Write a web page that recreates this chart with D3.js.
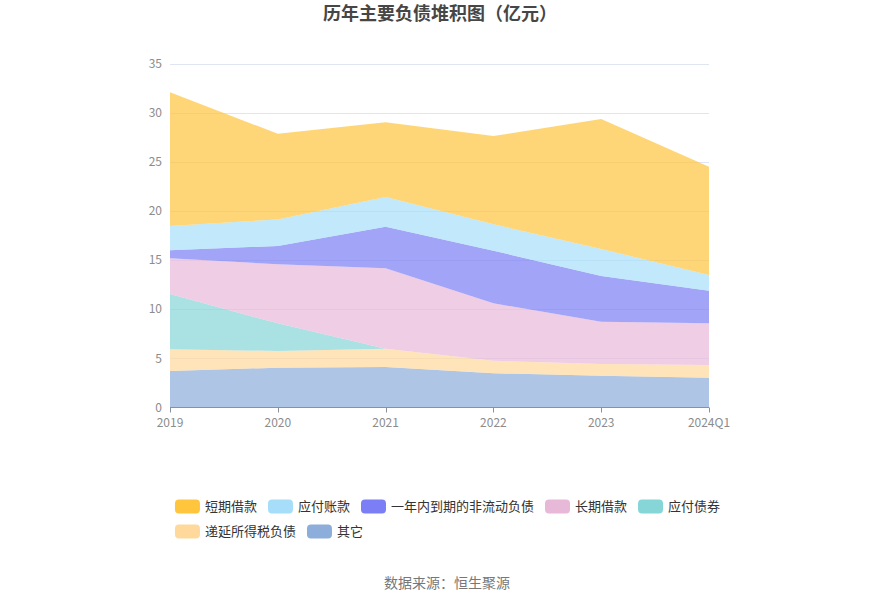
<!DOCTYPE html>
<html><head><meta charset="utf-8">
<script src="https://cdn.jsdelivr.net/npm/d3@7/dist/d3.min.js"></script>
<style>
body{margin:0;background:#fff;}
svg{display:block;font-family:"Noto Sans CJK SC","Noto Sans",sans-serif;}
</style></head>
<body>
<svg id="chart" width="893" height="603"></svg>
<script>
const years = ["2019","2020","2021","2022","2023","2024Q1"];
const seriesNames = ["其它","递延所得税负债","应付债券","长期借款","一年内到期的非流动负债","应付账款","短期借款"];
const other = [3.71, 4.05, 4.12, 3.48, 3.24, 3.03];
const deferredTax = [2.21, 1.70, 1.86, 1.28, 1.18, 1.29];
const bonds = [5.63, 2.81, 0, 0, 0, 0];
const longLoans = [3.63, 6.01, 8.18, 5.84, 4.31, 4.24];
const currentNonCurrent = [0.82, 1.86, 4.23, 5.35, 4.65, 3.32];
const payables = [2.46, 2.71, 3.02, 2.69, 2.74, 1.60];
const shortLoans = [13.61, 8.71, 7.60, 8.98, 13.23, 11.02];
const yTicks = [0,5,10,15,20,25,30,35];
const legendOrder = ["短期借款","应付账款","一年内到期的非流动负债","长期借款","应付债券","递延所得税负债","其它"];

const valuesByName = {
  "其它": other, "递延所得税负债": deferredTax, "应付债券": bonds, "长期借款": longLoans,
  "一年内到期的非流动负债": currentNonCurrent, "应付账款": payables, "短期借款": shortLoans
};
const colors = {
  "短期借款":"#FFC53D","应付账款":"#A6DEF9","一年内到期的非流动负债":"#7B7EF5",
  "长期借款":"#E8B8D8","应付债券":"#86D6D8","递延所得税负债":"#FFD99B","其它":"#8DADDB"
};

const rows = years.map((y,i)=>{ const r={year:y}; seriesNames.forEach(n=>r[n]=valuesByName[n][i]); return r; });
const stacked = d3.stack().keys(seriesNames)(rows);

const svg = d3.select("#chart");
const x = d3.scalePoint().domain(years).range([170, 709]);
const y = d3.scaleLinear().domain([0,35]).range([407.5, 63.5]);

// grid
svg.append("g").selectAll("line").data(yTicks.filter(t=>t>0)).join("line")
  .attr("x1",170).attr("x2",709).attr("y1",d=>Math.round(y(d))+0.5).attr("y2",d=>Math.round(y(d))+0.5)
  .attr("stroke","#E0E6F1").attr("stroke-width",1);

// areas
const area = d3.area().x((d,i)=>x(years[i])).y0(d=>y(d[0])).y1(d=>y(d[1]));
svg.append("g").selectAll("path").data(stacked).join("path")
  .attr("d",area).attr("fill",d=>colors[d.key]).attr("fill-opacity",0.7);

// y axis labels
svg.append("g").selectAll("text").data(yTicks).join("text")
  .attr("x",162).attr("y",d=>y(d)).attr("dy","0.35em").attr("text-anchor","end")
  .attr("font-size",12).attr("fill","#8c8c8c").text(d=>d);

// x axis
const xAxis = svg.append("g").attr("transform","translate(0,407.5)");
xAxis.append("line").attr("x1",170).attr("x2",709).attr("stroke","#8a919e").attr("stroke-width",1);
xAxis.selectAll("line.tick").data(years).join("line").attr("class","tick")
  .attr("x1",d=>Math.round(x(d))+0.5).attr("x2",d=>Math.round(x(d))+0.5).attr("y1",0).attr("y2",5)
  .attr("stroke","#8a919e");
xAxis.selectAll("text").data(years).join("text")
  .attr("x",d=>x(d)).attr("y",19).attr("text-anchor","middle")
  .attr("font-size",12).attr("fill","#8c8c8c").text(d=>d);

// title
svg.append("text").attr("x",440).attr("y",20).attr("text-anchor","middle")
  .attr("font-size",18).attr("font-weight","bold").attr("fill","#464646").text("历年主要负债堆积图（亿元）");

// legend
const lg = svg.append("g");
const rowsDef = [legendOrder.slice(0,5), legendOrder.slice(5)];
const rowYs = [506.5, 531.5];
let maxW = 0;
const built = rowsDef.map((items,ri)=>{
  const g = lg.append("g");
  let cx = 0;
  items.forEach(name=>{
    const it = g.append("g").attr("transform",`translate(${cx},${rowYs[ri]})`);
    it.append("rect").attr("x",0).attr("y",-7).attr("width",25).attr("height",14).attr("rx",4)
      .attr("fill",colors[name]);
    const t = it.append("text").attr("x",30).attr("y",0).attr("dy","0.35em")
      .attr("font-size",13).attr("fill","#333").text(name);
    cx += 30 + t.node().getComputedTextLength() + 11;
  });
  const w = cx - 11;
  maxW = Math.max(maxW, w);
  return g;
});
const startX = (893 - maxW)/2 + 1;
built.forEach(g=>g.attr("transform",`translate(${startX},0)`));

// source
svg.append("text").attr("x",447).attr("y",588).attr("text-anchor","middle")
  .attr("font-size",14).attr("fill","#777").text("数据来源：恒生聚源");
</script>
</body></html>
